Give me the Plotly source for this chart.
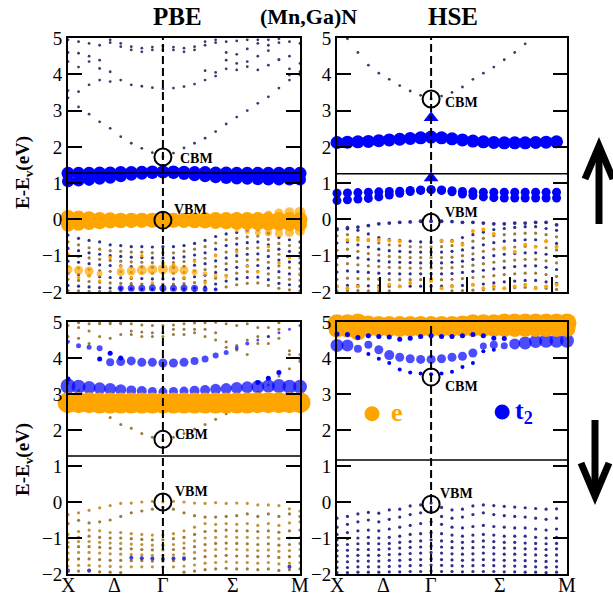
import plotly.graph_objects as go

# ---------------- k-path (band index along X - Gamma - M) ----------------
K = list(range(23))
KTICK_POS = [0, 4.45, 9, 15.6, 22]
KTICK_LAB = ["X", "Δ", "Γ", "Σ", "M"]
YTICKS = [-2, -1, 0, 1, 2, 3, 4, 5]

ORANGE = "#FFA500"
BLUE = "#0000FF"
NAVY = "#2e2e8c"
BROWN = "#9c7a3c"
TAN = "#c39338"

# ======================= PBE spin up (top-left) ==========================
tl_t2_a = [1.27,1.27,1.27,1.28,1.28,1.29,1.29,1.30,1.31,1.31,1.31,1.30,1.29,1.29,1.28,1.28,1.27,1.27,1.27,1.27,1.27,1.27,1.27]
tl_t2_b = [1.05,1.07,1.09,1.12,1.15,1.19,1.23,1.26,1.28,1.30,1.28,1.25,1.22,1.19,1.16,1.14,1.13,1.12,1.11,1.10,1.10,1.10,1.10]
tl_e_a = [0.05,0.04,0.02,0.0,-0.01,-0.02,-0.02,-0.02,-0.02,-0.02,-0.02,-0.02,-0.02,-0.01,0.0,0.0,0.0,0.0,0.0,0.0,0.0,0.0,0.0]
tl_e_b = [-0.15,-0.12,-0.1,-0.08,-0.06,-0.05,-0.04,-0.03,-0.03,-0.02,-0.03,-0.04,-0.05,-0.06,-0.07,-0.08,-0.09,-0.1,-0.11,-0.12,-0.12,-0.13,-0.14]
tl_e_c = [None]*18 + [0.12,0.15,0.18,0.2,0.2]
tl_e_c_size = [0]*18 + [5,7,9,10,11]
tl_e_d = [None]*16 + [-0.3,-0.33,-0.36,-0.37,-0.38,-0.36,-0.32]
tl_e_d_size = [0]*16 + [4,5,6,7,8,9,10]
tl_e_deep = [-1.38,-1.4,-1.42,-1.5,None,-1.45,-1.42,-1.4,-1.38,-1.37,-1.38,-1.4,-1.45,-1.5,-1.55,-1.6]
tl_e_deep_size = [9,9,9,6,0,8,9,10,10,10,10,9,6,5,4,3]
tl_t2_deep = [None,None,None,None,None,-1.9,-1.9,-1.9,-1.89,-1.9,-1.9,-1.89,-1.9,-1.92,-1.93]
tl_t2_deep_size = [0,0,0,0,0,6,7,7,7,7,7,7,7,5,4]
tl_c1 = [3.35,3.1,2.9,2.69,2.51,2.28,2.1,1.96,1.84,1.72,1.83,1.97,2.1,2.24,2.42,2.63,2.82,3.0,3.2,3.38,3.62,3.84,4.0]
tl_c2 = [3.55,3.52,3.71,3.84,3.80,3.84,3.71,3.67,3.63,3.60,3.62,3.66,3.73,3.84,3.95,4.15,4.12,4.21,4.12,4.25,4.4,3.98,3.98]
tl_c3 = [4.35,4.2,4.35,4.16,4.07,None,None,None,None,None,None,None,None,4.1,4.05,4.39,4.3,4.35,4.5,4.65,4.4,4.15,4.07]
tl_c4 = [4.6,4.58,4.5,4.39,4.87,4.76,4.67,4.62,4.67,4.67,4.67,4.62,4.67,4.8,4.87,4.6,4.55,4.7,4.85,4.8,4.87,4.5,4.3]
tl_c5 = [4.95,4.9,4.85,4.8,4.95,4.85,4.76,4.72,4.75,4.78,4.75,4.72,4.76,4.9,4.95,4.9,4.92,4.95,4.95,4.95,4.98,4.9,4.85]
tl_v1 = [-0.43,-0.52,-0.58,-0.62,-0.70,-0.72,-0.75,-0.75,-0.76,-0.75,-0.75,-0.72,-0.66,-0.58,-0.47,-0.40,-0.36,-0.30,-0.29,-0.38,-0.50,-0.56,-0.62]
tl_v2 = [-0.62,-0.7,-0.78,-0.82,-0.86,-0.88,-0.9,-0.9,-0.92,-0.92,-0.92,-0.88,-0.82,-0.75,-0.65,-0.56,-0.52,-0.48,-0.46,-0.55,-0.66,-0.72,-0.78]
tl_v3 = [-0.8,-0.86,-0.92,-0.96,-1.0,-1.02,-1.04,-1.05,-1.06,-1.06,-1.06,-1.03,-0.98,-0.92,-0.82,-0.72,-0.68,-0.64,-0.62,-0.7,-0.82,-0.88,-0.92]
tl_v4 = [-0.98,-1.02,-1.06,-1.1,-1.13,-1.15,-1.17,-1.18,-1.19,-1.19,-1.19,-1.16,-1.12,-1.07,-0.98,-0.9,-0.84,-0.8,-0.78,-0.86,-0.96,-1.02,-1.06]
tl_v5 = [-1.15,-1.18,-1.22,-1.25,-1.27,-1.28,-1.3,-1.31,-1.32,-1.32,-1.32,-1.3,-1.26,-1.22,-1.14,-1.06,-1.0,-0.96,-0.95,-1.02,-1.12,-1.17,-1.2]
tl_v6 = [-1.3,-1.34,-1.38,-1.41,-1.43,-1.44,-1.46,-1.47,-1.48,-1.48,-1.48,-1.46,-1.42,-1.38,-1.3,-1.22,-1.16,-1.12,-1.11,-1.18,-1.28,-1.33,-1.36]
tl_v7 = [-1.48,-1.52,-1.55,-1.58,-1.6,-1.61,-1.62,-1.63,-1.64,-1.64,-1.64,-1.62,-1.58,-1.54,-1.46,-1.38,-1.32,-1.28,-1.27,-1.34,-1.44,-1.5,-1.52]
tl_v8 = [-1.65,-1.68,-1.71,-1.73,-1.75,-1.76,-1.77,-1.78,-1.78,-1.78,-1.78,-1.77,-1.74,-1.7,-1.62,-1.54,-1.48,-1.44,-1.43,-1.5,-1.6,-1.65,-1.68]
tl_v9 = [-1.82,-1.84,-1.86,-1.88,-1.89,-1.9,-1.91,-1.92,-1.92,-1.92,-1.92,-1.91,-1.89,-1.86,-1.78,-1.7,-1.64,-1.6,-1.59,-1.66,-1.76,-1.8,-1.84]
tl_v10 = [-1.96,-1.97,-1.98,-1.98,-1.99,-1.99,None,None,None,None,None,-1.99,-1.98,-1.97,-1.92,-1.86,-1.8,-1.76,-1.75,-1.82,-1.9,-1.94,-1.97]
tl_e_tiny = [-0.95,-1.6,-1.55,-1.7,-1.05,-1.3,-1.6,-1.0,-1.75,-1.2,-1.25,-1.6,-1.15,-1.75,-1.0,-1.55,-0.9,-1.3,-1.45,-0.75,-1.2,-1.05,-1.5]

# ======================= HSE spin up (top-right) =========================
tr_t2_a = [2.12,2.13,2.14,2.15,2.17,2.19,2.21,2.23,2.25,2.27,2.25,2.22,2.19,2.16,2.14,2.12,2.11,2.11,2.11,2.12,2.13,2.14,None]
tr_t2_b = [0.72,0.73,0.74,0.75,0.76,0.77,0.78,0.80,0.81,0.82,0.81,0.79,0.77,0.76,0.75,0.75,0.75,0.75,0.75,0.75,0.75,0.75,None]
tr_t2_c = [0.52,0.54,0.56,0.58,0.62,0.67,0.72,0.77,0.80,0.82,0.80,0.76,0.70,0.66,0.62,0.60,0.59,0.59,0.59,0.59,0.59,0.59,None]
tr_vbm = [-0.28,-0.25,-0.21,-0.17,-0.12,-0.1,-0.08,-0.07,-0.05,-0.05,-0.05,-0.06,-0.08,-0.08,-0.1,-0.12,-0.12,-0.1,-0.1,-0.08,-0.08,-0.15,None]
tr_c1 = [5.3,4.98,4.6,4.25,4.03,3.86,3.69,3.54,3.42,3.32,3.4,3.5,3.65,3.86,4.03,4.2,4.4,4.6,4.84,5.1,5.3,5.5,None]
tr_v1 = [-0.25,-0.22,-0.3,-0.4,-0.5,-0.55,-0.58,-0.6,-0.62,-0.62,-0.6,-0.58,-0.5,-0.42,-0.35,-0.28,-0.25,-0.22,-0.2,-0.2,-0.25,-0.3,None]
tr_v2 = [-0.45,-0.42,-0.5,-0.58,-0.65,-0.7,-0.72,-0.75,-0.76,-0.76,-0.75,-0.72,-0.66,-0.6,-0.52,-0.45,-0.42,-0.4,-0.38,-0.38,-0.42,-0.48,None]
tr_v3 = [-0.65,-0.62,-0.7,-0.76,-0.82,-0.86,-0.88,-0.9,-0.9,-0.9,-0.9,-0.88,-0.84,-0.78,-0.7,-0.64,-0.6,-0.58,-0.56,-0.56,-0.6,-0.66,None]
tr_v4 = [-0.85,-0.82,-0.88,-0.94,-0.98,-1.02,-1.04,-1.05,-1.05,-1.05,-1.05,-1.04,-1.0,-0.95,-0.88,-0.82,-0.78,-0.76,-0.74,-0.74,-0.78,-0.84,None]
tr_v5 = [-1.05,-1.02,-1.06,-1.1,-1.14,-1.17,-1.18,-1.19,-1.2,-1.2,-1.2,-1.18,-1.15,-1.1,-1.05,-1.0,-0.96,-0.94,-0.92,-0.92,-0.96,-1.02,None]
tr_v6 = [-1.25,-1.22,-1.25,-1.28,-1.3,-1.32,-1.33,-1.34,-1.34,-1.34,-1.34,-1.33,-1.3,-1.26,-1.22,-1.18,-1.15,-1.12,-1.1,-1.1,-1.14,-1.2,None]
tr_v7 = [-1.45,-1.42,-1.44,-1.46,-1.48,-1.49,-1.5,-1.5,-1.5,-1.5,-1.5,-1.49,-1.46,-1.43,-1.4,-1.36,-1.33,-1.3,-1.28,-1.28,-1.32,-1.38,None]
tr_v8 = [-1.65,-1.62,-1.63,-1.64,-1.65,-1.66,-1.66,-1.66,-1.66,-1.66,-1.66,-1.65,-1.63,-1.6,-1.58,-1.55,-1.52,-1.5,-1.48,-1.48,-1.52,-1.57,None]
tr_v9 = [-1.84,-1.82,-1.82,-1.83,-1.83,-1.84,-1.84,-1.84,-1.84,-1.84,-1.84,-1.83,-1.82,-1.8,-1.78,-1.75,-1.72,-1.7,-1.68,-1.68,-1.72,-1.76,None]
tr_v10 = [-1.97,-1.96,-1.96,-1.97,-1.97,-1.97,None,None,None,None,None,-1.97,-1.96,-1.95,-1.94,-1.92,-1.9,-1.88,-1.87,-1.87,-1.9,-1.93,None]
tr_e_tiny = [None,-0.57,-0.57,-0.56,-0.57,-0.58,-0.6,None,None,-1.7,-0.58,-0.6,-0.7,-0.32,-0.28,-0.4,-0.8,-0.9,-0.7,-0.75,-0.6,-0.75,None]
tr_e_tiny2 = [-1.85,-1.9,-1.85,None,-1.88,-1.8,-1.85,-1.75,None,-1.65,-1.9,-1.85,None,-1.8,-1.9,-1.85,-1.9,-1.85,-1.8,-1.9,-1.85,-1.8,None]

# ======================= PBE spin down (bottom-left) =====================
bl_e_a = [2.76,2.76,2.76,2.75,2.75,2.75,2.75,2.75,2.75,2.75,2.75,2.75,2.75,2.75,2.75,2.75,2.75,2.75,2.76,2.76,2.76,2.76,2.76]
bl_t2_a = [3.22,3.2,3.18,3.16,3.14,3.12,3.1,3.08,3.07,3.06,3.07,3.08,3.09,3.11,3.13,3.15,3.17,3.19,3.2,3.22,3.22,3.2,3.2]
bl_t2_a_size = [15,14,13,12,12,11,10,10,9,9,9,9,10,10,11,11,12,12,13,13,14,14,14]
bl_t2_b = [4.45,4.34,4.3,4.27,3.88,3.9,3.92,3.88,3.88,3.86,3.86,3.88,3.92,3.97,4.07,4.15,4.28,4.4,4.5,4.6,4.7,4.8,4.9]
bl_t2_b_size = [4,5,5,6,8,9,9,9,9,9,9,9,8,7,6,5,4,4,3,3,3,3,3]
bl_t2_c = [3.42,None,None,3.97,4.13,4.0,None,None,None,None,None,None,None,None,None,None,None,None,3.32,3.44,3.6,None,None]
bl_c1 = [3.3,3.1,2.85,2.6,2.35,2.15,2.05,1.9,1.8,1.72,1.8,1.9,2.03,2.15,2.3,2.45,2.65,2.85,3.05,3.25,3.5,3.7,3.9]
bl_c2 = [4.6,4.55,4.4,4.6,4.55,4.65,4.65,4.6,4.6,4.6,4.65,4.65,4.7,4.6,4.5,4.3,4.22,4.1,4.4,4.4,4.55,4.2,4.1]
bl_c3 = [4.9,4.85,4.75,4.95,4.95,4.95,4.75,4.72,4.7,4.7,4.8,4.8,4.8,4.8,4.7,4.45,4.35,4.5,4.6,4.6,4.8,4.1,3.95]
bl_c4 = [None,4.98,4.95,4.99,4.99,4.98,4.95,4.92,4.9,4.9,4.92,4.95,4.97,4.98,4.99,4.95,4.9,4.95,4.85,4.85,4.98,None,None]
bl_v1 = [-0.35,-0.3,-0.23,-0.16,-0.1,-0.04,-0.03,0.0,0.02,0.0,0.02,0.0,-0.03,-0.04,-0.02,-0.04,-0.03,-0.04,-0.08,-0.08,-0.1,-0.19,-0.25]
bl_v2 = [-0.6,-0.51,-0.58,-0.55,-0.5,-0.4,-0.3,-0.25,-0.2,-0.15,-0.2,-0.3,-0.38,-0.42,-0.42,-0.4,-0.38,-0.33,-0.4,-0.33,-0.4,-0.33,-0.4]
bl_v3 = [-0.9,-0.82,-0.78,-0.8,-0.85,-0.85,-0.88,-0.9,-0.92,-0.92,-0.88,-0.8,-0.7,-0.6,-0.62,-0.6,-0.62,-0.6,-0.65,-0.6,-0.65,-0.58,-0.55]
bl_v4 = [-1.0,-0.98,-0.95,-0.98,-1.0,-1.0,-1.02,-1.04,-1.05,-1.05,-1.02,-0.98,-0.9,-0.82,-0.8,-0.78,-0.8,-0.8,-0.82,-0.8,-0.84,-0.8,-0.78]
bl_v5 = [-1.12,-1.1,-1.1,-1.12,-1.14,-1.15,-1.17,-1.18,-1.2,-1.2,-1.18,-1.14,-1.08,-1.0,-0.98,-0.96,-0.98,-0.98,-1.0,-0.98,-1.02,-1.0,-0.98]
bl_v6 = [-1.25,-1.24,-1.24,-1.26,-1.28,-1.3,-1.3,-1.32,-1.33,-1.33,-1.32,-1.28,-1.24,-1.18,-1.15,-1.14,-1.15,-1.16,-1.18,-1.16,-1.2,-1.18,-1.15]
bl_v7 = [-1.42,-1.4,-1.4,-1.42,-1.44,-1.45,-1.46,-1.47,-1.48,-1.48,-1.47,-1.44,-1.4,-1.35,-1.32,-1.3,-1.32,-1.33,-1.35,-1.33,-1.37,-1.35,-1.32]
bl_v8 = [-1.6,-1.58,-1.58,-1.6,-1.62,-1.62,-1.63,-1.63,-1.64,-1.64,-1.63,-1.6,-1.57,-1.52,-1.5,-1.48,-1.5,-1.5,-1.52,-1.5,-1.54,-1.52,-1.5]
bl_v9 = [-1.78,-1.76,-1.76,-1.78,-1.79,-1.8,-1.8,-1.8,-1.8,-1.8,-1.8,-1.78,-1.75,-1.7,-1.68,-1.66,-1.68,-1.68,-1.7,-1.68,-1.72,-1.7,-1.68]
bl_v10 = [-1.93,-1.92,-1.92,-1.94,-1.95,-1.96,None,None,None,None,None,-1.95,-1.92,-1.88,-1.86,-1.84,-1.86,-1.86,-1.88,-1.86,-1.9,-1.88,-1.86]
bl_t2_v = [-1.9,None,-1.9,None,None,None,-1.55,-1.56,-1.57,-1.58,-1.57,-1.56,None,None,None,None,None,None,None,None,None,-1.8,None]

# ======================= HSE spin down (bottom-right) ====================
br_e_a = [4.95,4.95,4.97,4.92,4.9,4.9,4.9,4.9,4.9,4.9,4.9,4.9,4.92,4.95,4.95,4.95,4.97,4.97,4.97,4.97,4.97,4.97,4.97]
br_e_b = [4.8,4.8,4.72,4.82,4.82,4.82,4.82,4.82,4.82,4.82,4.82,4.82,4.82,4.82,4.82,4.82,4.82,4.82,4.82,4.82,4.82,4.82,4.82]
br_t2_a = [4.35,4.35,4.26,4.37,4.23,4.08,4.02,3.98,3.96,3.96,3.98,4.02,4.05,4.14,4.33,4.37,4.34,4.39,4.42,4.46,4.48,4.48,4.48]
br_t2_a_size = [13,12,8,8,9,10,9,9,9,9,9,9,9,9,7,8,7,11,13,13,14,14,14]
br_t2_b = [None,None,None,4.11,3.98,3.86,3.68,3.6,3.57,3.55,3.57,3.62,3.75,3.86,4.19,4.23,None,None,None,None,None,None,None]
br_t2_ring = [4.67,4.65,4.57,4.62,4.6,4.58,4.52,4.55,4.6,4.62,4.6,4.6,4.62,4.65,4.62,4.55,4.54,None,None,None,None,None,None]
br_v1 = [-0.45,-0.4,-0.33,-0.29,-0.31,-0.22,-0.2,-0.11,-0.08,-0.03,-0.15,-0.22,-0.2,-0.11,-0.08,-0.1,-0.12,-0.14,-0.16,-0.18,-0.2,-0.19,None]
br_v2 = [-0.7,-0.62,-0.55,-0.5,-0.55,-0.48,-0.42,-0.35,-0.3,-0.25,-0.4,-0.45,-0.42,-0.35,-0.3,-0.35,-0.38,-0.4,-0.42,-0.45,-0.48,-0.45,None]
br_v3 = [-0.9,-0.85,-0.8,-0.78,-0.8,-0.75,-0.7,-0.65,-0.6,-0.55,-0.62,-0.7,-0.72,-0.68,-0.65,-0.68,-0.7,-0.72,-0.72,-0.75,-0.78,-0.75,None]
br_v4 = [-1.05,-1.02,-1.0,-0.98,-1.0,-0.98,-0.95,-0.9,-0.88,-0.85,-0.88,-0.92,-0.95,-0.92,-0.9,-0.92,-0.95,-0.95,-0.95,-0.98,-1.0,-0.98,None]
br_v5 = [-1.2,-1.18,-1.16,-1.15,-1.16,-1.15,-1.12,-1.1,-1.08,-1.05,-1.08,-1.1,-1.12,-1.1,-1.08,-1.1,-1.12,-1.12,-1.14,-1.15,-1.16,-1.15,None]
br_v6 = [-1.35,-1.34,-1.32,-1.32,-1.32,-1.3,-1.28,-1.26,-1.25,-1.22,-1.25,-1.27,-1.28,-1.27,-1.25,-1.27,-1.28,-1.28,-1.3,-1.3,-1.32,-1.3,None]
br_v7 = [-1.5,-1.5,-1.48,-1.48,-1.48,-1.46,-1.45,-1.43,-1.42,-1.4,-1.42,-1.44,-1.45,-1.44,-1.42,-1.44,-1.45,-1.45,-1.46,-1.47,-1.48,-1.47,None]
br_v8 = [-1.66,-1.66,-1.64,-1.64,-1.64,-1.62,-1.62,-1.6,-1.6,-1.58,-1.6,-1.61,-1.62,-1.61,-1.6,-1.61,-1.62,-1.62,-1.63,-1.64,-1.65,-1.64,None]
br_v9 = [-1.82,-1.82,-1.8,-1.8,-1.8,-1.79,-1.78,-1.77,-1.76,-1.75,-1.76,-1.77,-1.78,-1.77,-1.76,-1.77,-1.78,-1.78,-1.79,-1.8,-1.81,-1.8,None]
br_v10 = [-1.96,-1.96,-1.95,-1.95,-1.95,-1.94,-1.94,-1.93,-1.93,-1.92,-1.93,-1.93,-1.94,-1.93,-1.93,-1.93,-1.94,-1.94,-1.95,-1.95,-1.96,-1.95,None]

# ---------------- band-edge markers ----------------
cbm = {"tl": 1.72, "tr": 3.32, "bl": 1.74, "br": 3.47}
vbm = {"tl": -0.02, "tr": -0.08, "bl": 0.0, "br": -0.06}
tr_triangles = [2.8, 1.14]
sep_line = {"tl": 1.28, "tr": 1.26, "bl": 1.28, "br": 1.17}

# ---------------- figure construction ----------------
W, H = 613, 597
AX = {"tl": ("x", "y"), "tr": ("x2", "y2"), "bl": ("x3", "y3"), "br": ("x4", "y4")}

fig = go.Figure()

def band(p, ys, color, size, clip=True):
    xa, ya = AX[p]
    xs = K[:len(ys)]
    fig.add_trace(go.Scatter(x=xs, y=ys, mode="markers", xaxis=xa, yaxis=ya,
                             cliponaxis=clip, hoverinfo="skip", showlegend=False,
                             marker=dict(size=size, color=color, line=dict(width=0))))

TINY = 3.2
# top-left
for i, v in enumerate([tl_v1, tl_v2, tl_v3, tl_v4, tl_v5, tl_v6, tl_v7, tl_v8, tl_v9, tl_v10]):
    band("tl", v, NAVY if i % 2 == 0 else BROWN, TINY)
band("tl", tl_e_tiny, ORANGE, 3.5)
for v in [tl_c1, tl_c2, tl_c3, tl_c4, tl_c5]:
    band("tl", v, "#3c3c6c", 2.8)
band("tl", tl_t2_deep, BLUE, tl_t2_deep_size)
band("tl", tl_e_deep, ORANGE, tl_e_deep_size)
band("tl", tl_e_d, ORANGE, tl_e_d_size, clip=False)
band("tl", tl_e_c, ORANGE, tl_e_c_size, clip=False)
band("tl", tl_e_b, ORANGE, 14, clip=False)
band("tl", tl_e_a, ORANGE, 15, clip=False)
band("tl", tl_t2_b, BLUE, 12, clip=False)
band("tl", tl_t2_a, BLUE, 13, clip=False)

# top-right
for i, v in enumerate([tr_v1, tr_v2, tr_v3, tr_v4, tr_v5, tr_v6, tr_v7, tr_v8, tr_v9, tr_v10]):
    band("tr", v, NAVY if i % 2 == 0 else BROWN, TINY)
band("tr", tr_e_tiny, ORANGE, 4)
band("tr", tr_e_tiny2, ORANGE, 4)
band("tr", tr_vbm, NAVY, 3.8)
band("tr", tr_c1, "#3c3c6c", 2.8)
band("tr", tr_t2_c, BLUE, 9, clip=False)
band("tr", tr_t2_b, BLUE, 9, clip=False)
band("tr", tr_t2_a, BLUE, 13, clip=False)

# bottom-left
for i, v in enumerate([bl_v1, bl_v2, bl_v3, bl_v4, bl_v5, bl_v6, bl_v7, bl_v8, bl_v9, bl_v10]):
    band("bl", v, TAN if i % 2 == 0 else BROWN, TINY)
band("bl", bl_t2_v, "#3a3acc", 4)
for v in [bl_c1, bl_c2, bl_c3, bl_c4]:
    band("bl", v, BROWN, 3)
band("bl", bl_t2_c, BLUE, 5)
band("bl", bl_t2_b, BLUE, bl_t2_b_size)
band("bl", bl_t2_a, BLUE, bl_t2_a_size, clip=False)
band("bl", bl_e_a, ORANGE, 21, clip=False)

# bottom-right
for v in [br_v1, br_v2, br_v3, br_v4, br_v5, br_v6, br_v7, br_v8, br_v9, br_v10]:
    band("br", v, NAVY, TINY)
band("br", br_t2_b, BLUE, 4)
band("br", br_t2_a, BLUE, br_t2_a_size, clip=False)
band("br", br_e_b, ORANGE, 17, clip=False)
band("br", br_e_a, ORANGE, 19, clip=False)
band("br", br_t2_ring, BLUE, 5, clip=False)

# CBM / VBM circles and HSE triangles
for p in AX:
    xa, ya = AX[p]
    fig.add_trace(go.Scatter(x=[9, 9], y=[cbm[p], vbm[p]], mode="markers", xaxis=xa, yaxis=ya,
                             cliponaxis=False, hoverinfo="skip", showlegend=False,
                             marker=dict(symbol="circle-open", size=17, color="black",
                                         line=dict(width=2, color="black"))))
fig.add_trace(go.Scatter(x=[9, 9], y=tr_triangles, mode="markers", xaxis="x2", yaxis="y2",
                         hoverinfo="skip", showlegend=False, cliponaxis=False,
                         marker=dict(symbol="triangle-up", size=13, color=BLUE)))

# legend markers in bottom-right panel
fig.add_trace(go.Scatter(x=[3.35], y=[2.45], mode="markers", xaxis="x4", yaxis="y4",
                         hoverinfo="skip", showlegend=False,
                         marker=dict(size=15, color=ORANGE)))
fig.add_trace(go.Scatter(x=[15.8], y=[2.5], mode="markers", xaxis="x4", yaxis="y4",
                         hoverinfo="skip", showlegend=False,
                         marker=dict(size=15, color=BLUE)))

SERIF = "Liberation Serif"
TOPY = [1 - 292 / H, 1 - 38 / H]
BOTY = [1 - 574 / H, 1 - 322 / H]
LEFTX = [68 / W, 300 / W]
RIGHTX = [337 / W, 567 / W]

def xax(dom, anchor):
    return dict(domain=dom, anchor=anchor, range=[0, 22], showgrid=False, zeroline=False,
                showline=True, linewidth=2, linecolor="black", mirror=True,
                ticks="", showticklabels=False, automargin=False)

def yax(dom, anchor):
    return dict(domain=dom, anchor=anchor, range=[-2, 5], showgrid=False, zeroline=False,
                showline=True, linewidth=2, linecolor="black", mirror="allticks",
                ticks="inside", ticklen=14, tickwidth=1.5, tickcolor="black", automargin=False,
                tickvals=YTICKS, tickfont=dict(family=SERIF, size=19, color="black"))

x2 = xax(RIGHTX, "y2")
x2.update(ticks="inside", ticklen=15, tickwidth=1.5, tickcolor="black",
          tickvals=[4.1, 8.3, 12.4, 16.5, 20.6], mirror=True)

fig.update_layout(
    width=W, height=H, autosize=False,
    margin=dict(l=0, r=0, t=0, b=0, pad=0, autoexpand=False),
    paper_bgcolor="white", plot_bgcolor="white", showlegend=False,
    xaxis=xax(LEFTX, "y"), yaxis=yax(TOPY, "x"),
    xaxis2=x2, yaxis2=yax(TOPY, "x2"),
    xaxis3=xax(LEFTX, "y3"), yaxis3=yax(BOTY, "x3"),
    xaxis4=xax(RIGHTX, "y4"), yaxis4=yax(BOTY, "x4"),
)

shapes = []
for p in AX:
    xa, ya = AX[p]
    shapes.append(dict(type="line", xref=xa, yref=ya, x0=9, x1=9, y0=-2, y1=5,
                       line=dict(color="black", width=2, dash="8px,4px")))
    shapes.append(dict(type="line", xref=xa, yref=ya, x0=0, x1=22, y0=sep_line[p], y1=sep_line[p],
                       line=dict(color="black", width=1.5)))

def P(x, y):
    return x / W, 1 - y / H

# spin arrows
ux, uy0 = P(599, 224); _, uy1 = P(599, 150)
shapes.append(dict(type="line", xref="paper", yref="paper", x0=ux, x1=ux, y0=uy0, y1=uy1,
                   line=dict(color="black", width=7)))
a1, a2, a3 = P(585, 179), P(599, 146), P(613, 179)
shapes.append(dict(type="path", xref="paper", yref="paper",
                   path=f"M {a1[0]},{a1[1]} L {a2[0]},{a2[1]} L {a3[0]},{a3[1]}",
                   line=dict(color="black", width=7)))
dx, dy0 = P(595, 420); _, dy1 = P(595, 492)
shapes.append(dict(type="line", xref="paper", yref="paper", x0=dx, x1=dx, y0=dy0, y1=dy1,
                   line=dict(color="black", width=7)))
b1, b2, b3 = P(581, 463), P(595, 496), P(609, 463)
shapes.append(dict(type="path", xref="paper", yref="paper",
                   path=f"M {b1[0]},{b1[1]} L {b2[0]},{b2[1]} L {b3[0]},{b3[1]}",
                   line=dict(color="black", width=7)))
fig.update_layout(shapes=shapes)

ann = []
def txt(text, x, y, size, xref="paper", yref="paper", color="black", xanchor="center",
        angle=0, bold=True):
    ann.append(dict(text=f"<b>{text}</b>" if bold else text, x=x, y=y, xref=xref, yref=yref,
                    showarrow=False, xanchor=xanchor, yanchor="middle", textangle=angle,
                    font=dict(family=SERIF, size=size, color=color)))

txt("PBE", 177 / W, 1 - 17 / H, 25)
txt("(Mn,Ga)N", 308 / W, 1 - 16 / H, 22)
txt("HSE", 453 / W, 1 - 17 / H, 25)
txt("E-E<sub>v</sub>(eV)", 24 / W, 1 - 172 / H, 19, angle=-90)
txt("E-E<sub>v</sub>(eV)", 24 / W, 1 - 459 / H, 19, angle=-90)

# k-point labels under the bottom panels
for xa in ("x3", "x4"):
    for pos, lab_ in zip(KTICK_POS, KTICK_LAB):
        ann.append(dict(text=lab_, x=pos, y=1 - 585 / H, xref=xa, yref="paper",
                        showarrow=False, xanchor="center", yanchor="middle",
                        font=dict(family=SERIF, size=20, color="black")))

lab = {"tl": ((10.4, 1.69), (9.86, 0.26)), "tr": ((10.14, 3.21), (10.14, 0.18)),
       "bl": ((9.96, 1.88), (9.96, 0.29)), "br": ((10.14, 3.2), (9.66, 0.24))}
for p, ((cx, cy), (vx, vy)) in lab.items():
    xa, ya = AX[p]
    txt("CBM", cx, cy, 14, xref=xa, yref=ya, xanchor="left")
    txt("VBM", vx, vy, 14, xref=xa, yref=ya, xanchor="left")

txt("e", 4.95, 2.5, 26, xref="x4", yref="y4", color=ORANGE, xanchor="left")
txt("t<sub>2</sub>", 16.8, 2.5, 26, xref="x4", yref="y4", color=BLUE, xanchor="left")
fig.update_layout(annotations=ann)

fig.write_html("out.html", config={"responsive": False, "displayModeBar": False},
               post_script="document.body.style.margin='0px';document.body.style.overflow='hidden';")
